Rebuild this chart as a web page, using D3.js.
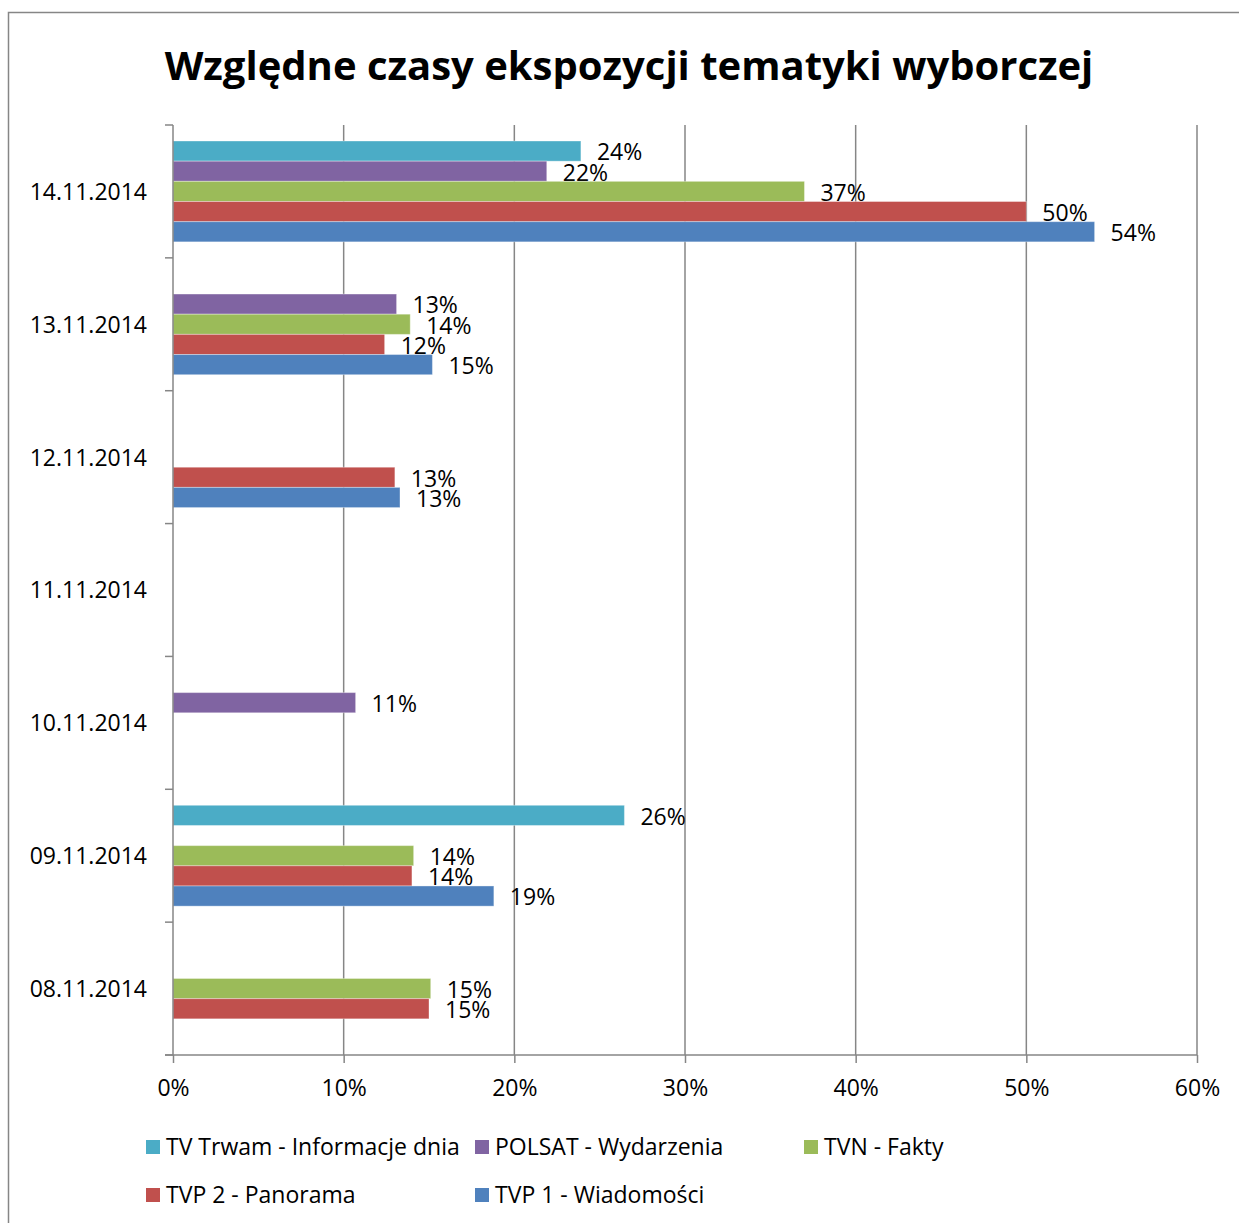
<!DOCTYPE html>
<html>
<head>
<meta charset="utf-8">
<script src="https://cdn.jsdelivr.net/npm/d3@7"></script>
<style>
  body { margin: 0; background: #fff; }
  svg { display: block; font-family: "Open Sans", Lato, sans-serif; }
</style>
</head>
<body>
<div id="chart"></div>
<script>
const width = 1239;
const height = 1223;

// data
const dates = ["14.11.2014", "13.11.2014", "12.11.2014", "11.11.2014", "10.11.2014", "09.11.2014", "08.11.2014"];
const series = ["TV Trwam - Informacje dnia", "POLSAT - Wydarzenia", "TVN - Fakty", "TVP 2 - Panorama", "TVP 1 - Wiadomości"];
const colors = ["#4BACC6", "#8064A2", "#9BBB59", "#C0504D", "#4F81BD"];
const trwam  = [0.239, null, null, null, null, 0.2645, null];
const polsat = [0.219, 0.131, null, null, 0.107, null, null];
const tvn    = [0.370, 0.139, null, null, null, 0.141, 0.151];
const tvp2   = [0.500, 0.124, 0.130, null, null, 0.140, 0.150];
const tvp1   = [0.540, 0.152, 0.133, null, null, 0.188, null];
const xTicks = [0, 0.1, 0.2, 0.3, 0.4, 0.5, 0.6];

const values = [trwam, polsat, tvn, tvp2, tvp1];
const fs = "23px";

const svg = d3.select("#chart").append("svg")
  .attr("width", width).attr("height", height);

// outer frame
svg.append("rect")
  .attr("x", 8.5).attr("y", 12.5)
  .attr("width", 1240).attr("height", 1230)
  .attr("fill", "none").attr("stroke", "#868686").attr("stroke-width", 1.5);

svg.append("text")
  .attr("x", 629).attr("y", 80)
  .attr("text-anchor", "middle")
  .style("font-size", "40px").style("font-weight", "bold")
  .text("Względne czasy ekspozycji tematyki wyborczej");

const x = d3.scaleLinear().domain([0, 0.6]).range([173, 1197]);
const y = d3.scaleBand().domain(dates).range([125, 1055]);
const inner = d3.scaleBand().domain(series).range([16, y.bandwidth() - 16]);

// vertical gridlines
svg.append("g").selectAll("line")
  .data(xTicks.slice(1))
  .join("line")
  .attr("x1", d => x(d)).attr("x2", d => x(d))
  .attr("y1", 125).attr("y2", 1055)
  .attr("stroke", "#868686").attr("stroke-width", 1.5);

// bars
series.forEach((s, si) => {
  const rows = dates.map((d, i) => ({date: d, v: values[si][i]})).filter(r => r.v != null);
  const g = svg.append("g");
  g.selectAll("rect")
    .data(rows)
    .join("rect")
    .attr("x", x(0))
    .attr("y", r => y(r.date) + inner(s))
    .attr("width", r => x(r.v) - x(0))
    .attr("height", inner.bandwidth())
    .attr("fill", colors[si])
    .attr("stroke", "rgba(255,255,255,0.35)")
    .attr("stroke-width", 1);
  g.selectAll("text")
    .data(rows)
    .join("text")
    .attr("x", r => x(r.v) + 16)
    .attr("y", r => y(r.date) + inner(s) + inner.bandwidth() / 2 + 1)
    .attr("dy", "0.36em")
    .style("font-size", fs)
    .text(r => Math.round(r.v * 100) + "%");
});

// left axis
const yAxis = d3.axisLeft(y).tickSize(0).tickPadding(26);
const ga = svg.append("g").attr("transform", "translate(173,1)").call(yAxis);
ga.select(".domain").remove();
ga.selectAll("text").style("font-size", fs).style("font-family", "'Open Sans', sans-serif").attr("fill", "#000");
svg.append("line").attr("x1", 173).attr("x2", 173).attr("y1", 125).attr("y2", 1055)
  .attr("stroke", "#868686").attr("stroke-width", 1.5);
svg.append("g").selectAll("line")
  .data(dates.map(d => y(d)).concat([1055]))
  .join("line")
  .attr("x1", 165).attr("x2", 173)
  .attr("y1", d => d).attr("y2", d => d)
  .attr("stroke", "#868686").attr("stroke-width", 1.5);

// bottom axis
const xAxis = d3.axisBottom(x).tickValues(xTicks).tickFormat(d3.format(".0%")).tickSize(8).tickPadding(17);
const gx = svg.append("g").attr("transform", "translate(0,1055)").call(xAxis);
gx.select(".domain").attr("d", "M165,0H1197").attr("stroke", "#868686").attr("stroke-width", 1.5);
gx.selectAll(".tick line").attr("stroke", "#868686").attr("stroke-width", 1.5);
gx.selectAll("text").style("font-size", fs).style("font-family", "'Open Sans', sans-serif").attr("fill", "#000");

// legend
const legendPos = [[146, 1147], [475, 1147], [804, 1147], [146, 1195], [475, 1195]];
const legend = svg.append("g");
const li = legend.selectAll("g").data(series).join("g")
  .attr("transform", (d, i) => `translate(${legendPos[i][0]},${legendPos[i][1]})`);
li.append("rect").attr("x", 0).attr("y", -7).attr("width", 14).attr("height", 14)
  .attr("fill", (d, i) => colors[i]);
li.append("text").attr("x", 20).attr("dy", "0.36em")
  .style("font-size", fs).text(d => d);
</script>
</body>
</html>
